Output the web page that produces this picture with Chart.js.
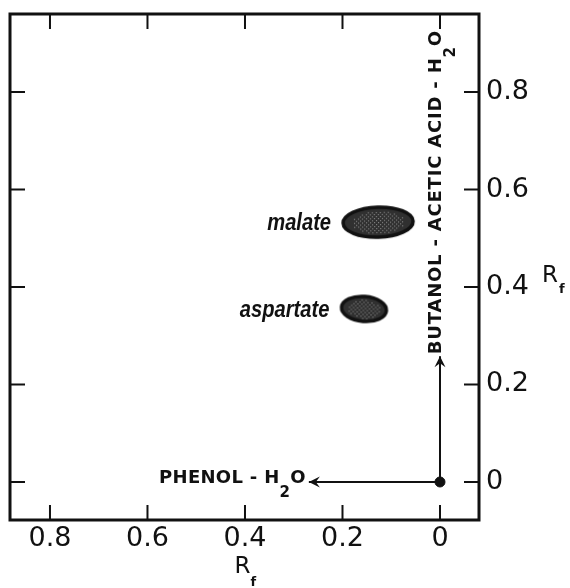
<!DOCTYPE html>
<html>
<head>
<meta charset="utf-8">
<script src="https://cdn.jsdelivr.net/npm/chart.js@4/dist/chart.umd.min.js"></script>
<style>
  html, body { margin: 0; background: #fff; }
  #wrap { width: 570px; height: 588px; position: relative; }
</style>
</head>
<body>
<div id="wrap"><canvas id="chromatogram"></canvas></div>
<script>
// Spots (Rf values)
const spotNames = ['malate', 'aspartate'];
const spotRfX = [0.127, 0.156];   // phenol-H2O direction
const spotRfY = [0.533, 0.355];   // butanol-acetic acid-H2O direction

const origin = [{ x: 0, y: 0 }];
const solventXEnd = [{ x: 0, y: 0 }, { x: 0.269, y: 0 }];
const solventYEnd = [{ x: 0, y: 0 }, { x: 0, y: 0.258 }];
const solventXLabel = ['PHENOL - H', '2', 'O'];
const solventYLabel = ['BUTANOL - ACETIC ACID - H', '2', 'O'];

const xTicks = [0, 0.2, 0.4, 0.6, 0.8];
const yTicks = [0, 0.2, 0.4, 0.6, 0.8];
const xRange = [-0.08, 0.882];
const yRange = [-0.078, 0.96];

const INK = '#111';
const FONT = "'DejaVu Sans', sans-serif";

/* ---------- spot shapes (stippled blobs) ---------- */
function makeBlob(w, h, tilt) {
  const c = document.createElement('canvas');
  c.width = w + 6; c.height = h + 6;
  const g = c.getContext('2d');
  g.translate(c.width / 2, c.height / 2);
  g.rotate(tilt);
  g.beginPath();
  g.ellipse(0, 0, w / 2, h / 2, 0, 0, Math.PI * 2);
  g.fillStyle = '#303030';
  g.fill();
  g.save();
  g.clip();
  g.fillStyle = '#a0a0a0';
  for (let i = -w; i < w; i += 2) {
    for (let j = -h; j < h; j += 2) {
      const r = (i * i) / (w * w / 4) + (j * j) / (h * h / 4);
      if (r < 0.55 && ((i + j) / 2) % 2 === 0) g.fillRect(i, j, 1, 1);
    }
  }
  g.restore();
  g.lineWidth = 3.5;
  g.strokeStyle = INK;
  g.stroke();
  return c;
}
const blobSizes = [[70, 30, -0.03], [45, 25, 0.08]];
const blobImages = blobSizes.map(([w, h, t]) => makeBlob(w, h, t));

/* ---------- helpers ---------- */
function pieceWidths(ctx, parts, big, small, spacing) {
  ctx.letterSpacing = spacing;
  ctx.font = big;  const a = ctx.measureText(parts[0]).width;
  ctx.font = small; const b = ctx.measureText(parts[1]).width;
  ctx.font = big;  const c = ctx.measureText(parts[2]).width;
  return [a, b, c];
}
// draws [main, subscript, tail] left to right from (x, y)
function drawSubText(ctx, parts, x, y, big, small, spacing, subDrop) {
  const [a, b] = pieceWidths(ctx, parts, big, small, spacing);
  ctx.textAlign = 'left';
  ctx.textBaseline = 'alphabetic';
  ctx.font = big;   ctx.fillText(parts[0], x, y);
  ctx.font = small; ctx.fillText(parts[1], x + a, y + subDrop);
  ctx.font = big;   ctx.fillText(parts[2], x + a + b, y);
}

function arrowHead(ctx, x, y, dx, dy) {
  const len = 11, half = 5.5, notch = 7;
  const nx = -dy, ny = dx;
  ctx.beginPath();
  ctx.moveTo(x, y);
  ctx.lineTo(x - dx * len + nx * half, y - dy * len + ny * half);
  ctx.lineTo(x - dx * notch, y - dy * notch);
  ctx.lineTo(x - dx * len - nx * half, y - dy * len - ny * half);
  ctx.closePath();
  ctx.fillStyle = INK;
  ctx.fill();
}

/* ---------- annotation plugin ---------- */
const annotate = {
  id: 'annotate',
  afterDatasetsDraw(chart) {
    const { ctx, chartArea: a, scales: { x, y } } = chart;
    ctx.save();
    ctx.strokeStyle = INK;
    ctx.fillStyle = INK;

    // frame
    ctx.lineWidth = 3;
    ctx.strokeRect(a.left, a.top, a.right - a.left, a.bottom - a.top);

    // inward ticks on all four sides
    const tl = 15;
    ctx.lineWidth = 2;
    ctx.beginPath();
    xTicks.forEach(v => {
      const px = x.getPixelForValue(v);
      ctx.moveTo(px, a.bottom); ctx.lineTo(px, a.bottom - tl);
      ctx.moveTo(px, a.top);    ctx.lineTo(px, a.top + tl);
    });
    yTicks.forEach(v => {
      const py = y.getPixelForValue(v);
      ctx.moveTo(a.left, py);  ctx.lineTo(a.left + tl, py);
      ctx.moveTo(a.right, py); ctx.lineTo(a.right - tl, py);
    });
    ctx.stroke();

    // arrow heads and solvent labels
    const tipX = chart.getDatasetMeta(2).data[1];
    const tipY = chart.getDatasetMeta(3).data[1];
    arrowHead(ctx, tipX.x, tipX.y, -1, 0);
    arrowHead(ctx, tipY.x, tipY.y, 0, -1);

    const big = `bold 18px ${FONT}`, small = `bold 15px ${FONT}`;
    const w = pieceWidths(ctx, solventXLabel, big, small, '0.3px');
    const totX = w[0] + w[1] + w[2];
    drawSubText(ctx, solventXLabel, tipX.x - 3 - totX, tipX.y + 1, big, small, '0.3px', 14);

    ctx.save();
    ctx.translate(tipY.x + 1, tipY.y - 2);
    ctx.rotate(-Math.PI / 2);
    drawSubText(ctx, solventYLabel, 0, 0, big, small, '0.8px', 14);
    ctx.restore();
    ctx.letterSpacing = '0px';

    // spot names, right-aligned just left of each blob
    const spots = chart.getDatasetMeta(0).data;
    spots.forEach((el, i) => {
      ctx.save();
      ctx.translate(el.x - blobSizes[i][0] / 2 - 12, el.y + 8);
      ctx.scale(0.84, 1);
      ctx.font = "bold italic 24px 'Liberation Sans', sans-serif";
      ctx.textAlign = 'right';
      ctx.textBaseline = 'alphabetic';
      ctx.fillText(spotNames[i], 0, 0);
      ctx.restore();
    });

    // axis titles R_f
    ctx.textAlign = 'left';
    ctx.textBaseline = 'alphabetic';
    const cx = (a.left + a.right) / 2;
    ctx.font = `23px ${FONT}`;
    ctx.fillText('R', cx - 10, a.bottom + 53);
    ctx.font = `bold 13px ${FONT}`;
    ctx.fillText('f', cx + 6, a.bottom + 66);

    ctx.font = `23px ${FONT}`;
    ctx.fillText('R', a.right + 63, y.getPixelForValue(0.4) - 5);
    ctx.font = `bold 13px ${FONT}`;
    ctx.fillText('f', a.right + 80, y.getPixelForValue(0.4) + 6);
    ctx.restore();
  }
};

const tickFont = { family: FONT, size: 27 };

new Chart(document.getElementById('chromatogram'), {
  type: 'scatter',
  data: {
    datasets: [
      {
        label: 'spots',
        data: spotRfX.map((v, i) => ({ x: v, y: spotRfY[i] })),
        pointStyle: blobImages,
        pointRadius: 20
      },
      {
        label: 'origin',
        data: origin,
        pointRadius: 5,
        backgroundColor: INK,
        borderColor: INK
      },
      {
        label: 'phenol-H2O',
        data: solventXEnd,
        showLine: true,
        pointRadius: 0,
        borderColor: INK,
        borderWidth: 2
      },
      {
        label: 'butanol-acetic acid-H2O',
        data: solventYEnd,
        showLine: true,
        pointRadius: 0,
        borderColor: INK,
        borderWidth: 2
      }
    ]
  },
  options: {
    responsive: true,
    maintainAspectRatio: false,
    animation: false,
    events: [],
    layout: { autoPadding: false, padding: { left: 10, top: 14, right: 0, bottom: 0 } },
    plugins: { legend: { display: false }, tooltip: { enabled: false } },
    scales: {
      x: {
        type: 'linear',
        position: 'bottom',
        reverse: true,
        min: xRange[0],
        max: xRange[1],
        grid: { display: false, drawTicks: false },
        border: { display: false },
        afterBuildTicks: s => { s.ticks = xTicks.map(v => ({ value: v })); },
        afterFit: s => { s.height = 68; s.paddingLeft = 0; s.paddingRight = 0; },
        ticks: {
          padding: 3,
          color: INK,
          font: tickFont,
          maxRotation: 0,
          callback: v => (v === 0 ? '0' : v.toFixed(1))
        }
      },
      y: {
        type: 'linear',
        position: 'right',
        min: yRange[0],
        max: yRange[1],
        grid: { display: false, drawTicks: false },
        border: { display: false },
        afterBuildTicks: s => { s.ticks = yTicks.map(v => ({ value: v })); },
        afterFit: s => { s.width = 91; s.paddingTop = 0; s.paddingBottom = 0; },
        ticks: {
          padding: 7,
          color: INK,
          font: tickFont,
          callback: v => (v === 0 ? '0' : v.toFixed(1))
        }
      }
    }
  },
  plugins: [annotate]
});
</script>
</body>
</html>
